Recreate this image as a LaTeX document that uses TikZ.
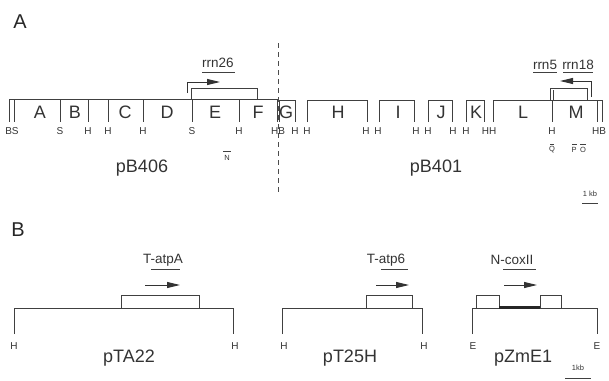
\documentclass[tikz,border=0pt]{standalone}
\usepackage{fontspec}
\setmainfont{Liberation Sans}
\usetikzlibrary{arrows.meta}
\begin{document}
\begin{tikzpicture}[x=1pt,y=-1pt,
  map/.style={draw=black!75,line width=0.8pt},
  frag/.style={font=\fontsize{18}{18}\selectfont,text=black!80,inner sep=0},
  site/.style={font=\fontsize{10}{10}\selectfont,text=black!80,inner sep=0},
  plas/.style={font=\fontsize{18}{18}\selectfont,text=black!80,inner sep=0},
  gene/.style={font=\fontsize{13.5}{13.5}\selectfont,text=black!80,inner sep=0},
  tinylab/.style={font=\fontsize{7.5}{7.5}\selectfont,text=black!80,inner sep=0},
  panel/.style={font=\fontsize{20}{20}\selectfont,text=black!85,inner sep=0},
  arr/.style={draw=black!80,line width=0.9pt,-{Triangle[length=13pt,width=6pt]}},
]
\useasboundingbox (0,0) rectangle (609,380);

% panel labels
\node[panel] (panA) at (20,22) {A};
\node[panel] (panB) at (18,230) {B};

% ---------- Panel A ----------
\draw[map] (9,99) -- (277,99);
\foreach \x in {9,14,60,88,108,143,192,239,277} \draw[map] (\x,99) -- (\x,122);
\draw[map] (279,122) |- (295,100) -- (295,122);
\foreach \a/\b in {307/367,379/414,428/452,466/484} \draw[map] (\a,122) |- (\b,100) -- (\b,122);
\draw[map] (493,122) |- (602,100) -- (602,122);
\draw[map] (552,100) -- (552,122);
\draw[map] (597,100) -- (597,122);

\draw[draw=black!70,line width=0.8pt,dash pattern=on 5pt off 4pt] (278,43) -- (278,192);

\foreach \t/\x [count=\i] in {A/40,B/75,C/125,D/167,E/215,F/258,G/286,H/338,I/398,J/441,K/476,L/523,M/576}
  \node[frag] (f\i) at (\x,112) {\t};

\foreach \t/\x [count=\i] in {BS/12,S/60,H/88,H/108,H/143,S/192,H/239,HB/278,H/295,H/307,H/366,H/378,H/416,H/428,H/453,H/466,HH/489,H/552,HB/599}
  \node[site] (s\i) at (\x,131) {\t};

% rrn26
\node[gene] (r26) at (218,63) {rrn26};
\draw[map] (202,72) -- (235,72);
\draw[map] (191,99) |- (257,88) -- (257,99);
\draw[arr] (187,93) |- (220,82);

% rrn5 / rrn18
\node[gene] (r5) at (545,65) {rrn5};
\draw[map] (533,72) -- (557,72);
\node[gene] (r18) at (578,65) {rrn18};
\draw[map] (563,72) -- (593,72);
\draw[map] (550,100) |- (587,88) -- (587,100);
\draw[map] (553,100) -- (553,90);
\draw[arr] (591,97) |- (560,81);

% probes
\node[tinylab] (nN) at (227,158) {N};
\draw[map] (223,151) -- (231,151);
\node[tinylab] (nQ) at (552,150) {Q};
\draw[map] (550,144) -- (554,144);
\node[tinylab] (nP) at (574,150) {P};
\draw[map] (572,144) -- (577,144);
\node[tinylab] (nO) at (583,150) {O};
\draw[map] (580,144) -- (586,144);

\node[plas] (pB406) at (142,168) {pB406};
\node[plas] (pB401) at (436,168) {pB401};

\node[tinylab] (kbA) at (590,194) {1 kb};
\draw[map] (582,203) -- (598,203);

% ---------- Panel B ----------
% pTA22
\draw[map] (14,334) -- (14,308) -- (233,308) -- (233,334);
\draw[map] (121,308) |- (199,295) -- (199,308);
\draw[arr] (145,285) -- (180,285);
\node[gene] (tatpA) at (163,260) {T-atpA};
\draw[map] (151,269) -- (180,269);
\node[site] (h1) at (14,346) {H};
\node[site] (h2) at (235,346) {H};
\node[plas] (pTA22) at (129,358) {pTA22};

% pT25H
\draw[map] (282,334) -- (282,308) -- (422,308) -- (422,334);
\draw[map] (366,308) |- (412,295) -- (412,308);
\draw[arr] (376,285) -- (409,285);
\node[gene] (tatp6) at (386,260) {T-atp6};
\draw[map] (381,269) -- (408,269);
\node[site] (h3) at (284,346) {H};
\node[site] (h4) at (424,346) {H};
\node[plas] (pT25H) at (350,358) {pT25H};

% pZmE1
\draw[map] (472,334) -- (472,308) -- (597,308) -- (597,334);
\draw[map] (476,308) |- (499,295) -- (499,308);
\draw[map] (540,308) |- (561,295) -- (561,308);
\draw[draw=black!85,line width=3pt] (499,307) -- (540,307);
\draw[arr] (504,285) -- (537,285);
\node[gene] (ncox) at (512,260) {N-coxII};
\draw[map] (503,269) -- (536,269);
\node[site] (e1) at (473,346) {E};
\node[site] (e2) at (597,346) {E};
\node[plas] (pZmE1) at (523,358) {pZmE1};

\node[tinylab] (kbB) at (578,368) {1kb};
\draw[map] (565,378) -- (591,378);
\end{tikzpicture}
\end{document}
